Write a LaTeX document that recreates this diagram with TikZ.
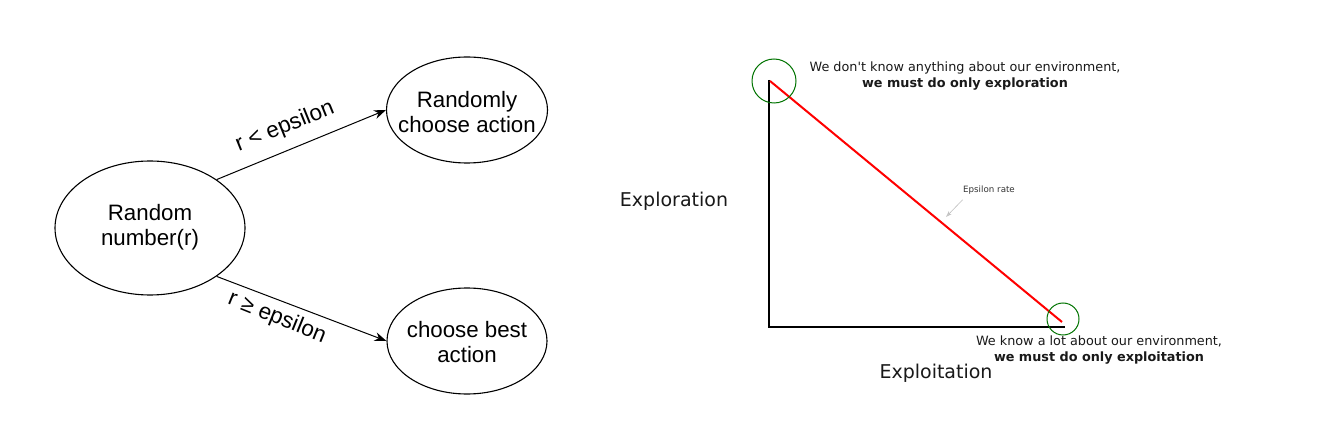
\documentclass[tikz,border=0pt]{standalone}
\usepackage{fontspec}
\setmainfont{Liberation Sans}
\newfontfamily\verd{DejaVu Sans}
\usetikzlibrary{arrows.meta,shapes.geometric}
\begin{document}
\begin{tikzpicture}[x=1pt,y=-1pt,
  ell/.style={draw,ellipse,line width=1.1pt,inner sep=0pt},
  etxt/.style={align=center,font=\fontsize{22.3}{25.5}\selectfont},
  arr/.style={-{Stealth[length=12pt,width=9pt]},line width=1pt},
  lbl/.style={font=\fontsize{22.5}{25}\selectfont},
  axis/.style={line width=1.8pt},
  gc/.style={draw=green!45!black,line width=1pt,circle,inner sep=0pt},
  note/.style={font=\verd\fontsize{12.8}{16}\selectfont,align=center,text=black!90},
  big/.style={font=\verd\fontsize{19}{22}\selectfont,text=black!90}]
\useasboundingbox (0,0) rectangle (1319,430);
% left diagram
\node[ell,minimum width=190pt,minimum height=134pt] (rn) at (150,228) {};
\node[etxt] (rnt) at (150,227) {Random\\number(r)};
\node[ell,minimum width=161pt,minimum height=106pt] (rc) at (467,110) {};
\node[etxt] (rct) at (467,112) {Randomly\\choose action};
\node[ell,minimum width=160pt,minimum height=106pt] (cb) at (467,341) {};
\node[etxt] (cbt) at (467,342) {choose best\\action};
\draw[arr] (rn.36) -- (rc.west);
\draw[arr] (rn.-36) -- (cb.west);
\node[lbl,rotate=22] (l1) at (285,127) {r < epsilon};
\node[lbl,rotate=-22] (l2) at (277,318) {r ≥ epsilon};
% right diagram
\coordinate (top) at (769,80);
\coordinate (org) at (769,327);
\coordinate (rend) at (1065,327);
\draw[axis] (top) -- (org) -- (rend);
\coordinate (rs) at (770,81);
\coordinate (re) at (1062,322);
\draw[red,line width=2pt] (rs) -- (re);
\node[gc,minimum size=44pt] (c1) at (774,81) {};
\node[gc,minimum size=32pt] (c2) at (1063,319) {};
\node[note] (t1) at (965,76) {We don't know anything about our environment,\\\textbf{we must do only exploration}};
\node[note] (t2) at (1099,350) {We know a lot about our environment,\\\textbf{we must do only exploitation}};
\node[big] (ex) at (674,201) {Exploration};
\node[big] (ei) at (936,373) {Exploitation};
\node[font=\verd\fontsize{8.7}{10}\selectfont,text=black!80] (er) at (989,190) {Epsilon rate};
\coordinate (ea) at (946,217);
\draw[black!25,line width=0.6pt,-{Stealth[length=6pt,width=4pt,open]}] (er.south west) ++(3,2) -- (ea);
\end{tikzpicture}
\end{document}
